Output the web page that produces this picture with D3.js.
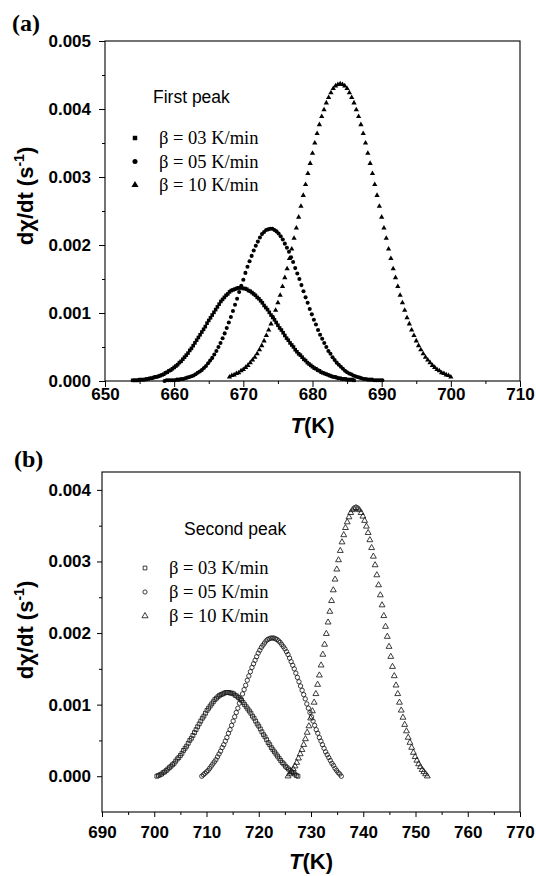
<!DOCTYPE html>
<html>
<head>
<meta charset="utf-8">
<script src="https://cdn.jsdelivr.net/npm/d3@7"></script>
<style>
  body { margin: 0; background: #fff; }
  svg { display: block; }
</style>
</head>
<body>
<svg id="fig" width="536" height="876"></svg>
<script>
// ---- Heating-rate legend labels ----
const rateLabels = ["β = 03 K/min", "β = 05 K/min", "β = 10 K/min"];

// ---- First crystallization peak: sampling grid (K) and dχ/dt (s^-1) ----
const firstStart = [654.0, 658.6, 668.0];
const firstStep = [0.25, 0.3, 1 / 3];

const firstRate03 = [
  0.00001,0.00001,0.00001,0.00001,0.00002,0.00002,0.00002,0.00002,0.00003,0.00003,
  0.00004,0.00004,0.00005,0.00006,0.00006,0.00007,0.00008,0.00009,0.00010,0.00012,
  0.00013,0.00015,0.00016,0.00018,0.00020,0.00022,0.00024,0.00027,0.00029,0.00032,
  0.00035,0.00038,0.00041,0.00045,0.00048,0.00052,0.00056,0.00060,0.00064,0.00068,
  0.00072,0.00076,0.00080,0.00085,0.00089,0.00093,0.00097,0.00101,0.00105,0.00109,
  0.00113,0.00117,0.00120,0.00123,0.00126,0.00128,0.00131,0.00133,0.00134,0.00135,
  0.00136,0.00137,0.00137,
  0.00137,0.00136,0.00136,0.00135,0.00133,0.00132,0.00130,0.00128,0.00126,0.00123,
  0.00121,0.00118,0.00115,0.00111,0.00108,0.00105,0.00101,0.00097,0.00094,0.00090,
  0.00086,0.00082,0.00078,0.00075,0.00071,0.00067,0.00063,0.00060,0.00056,0.00053,
  0.00050,0.00046,0.00043,0.00040,0.00038,0.00035,0.00032,0.00030,0.00027,0.00025,
  0.00023,0.00021,0.00019,0.00018,0.00016,0.00015,0.00013,0.00012,0.00011,0.00010,
  0.00009,0.00008,0.00007,0.00006,0.00006,0.00005,0.00004,0.00004,0.00003,0.00003,
  0.00003,0.00002,0.00002,0.00002,0.00002,0.00001
];

const firstRate05 = [
  0.00000,0.00001,0.00001,0.00001,0.00001,0.00001,0.00002,0.00002,0.00003,0.00003,
  0.00004,0.00005,0.00006,0.00007,0.00008,0.00010,0.00012,0.00014,0.00016,0.00019,
  0.00022,0.00026,0.00030,0.00034,0.00039,0.00044,0.00050,0.00056,0.00063,0.00070,
  0.00078,0.00086,0.00094,0.00103,0.00112,0.00121,0.00131,0.00140,0.00149,0.00159,
  0.00168,0.00176,0.00184,0.00192,0.00199,0.00205,0.00211,0.00216,0.00219,0.00222,
  0.00223,0.00224,
  0.00224,0.00222,0.00220,0.00217,0.00213,0.00208,0.00202,0.00196,0.00190,0.00182,
  0.00175,0.00166,0.00158,0.00150,0.00141,0.00132,0.00123,0.00115,0.00106,0.00098,
  0.00090,0.00083,0.00075,0.00068,0.00062,0.00056,0.00050,0.00044,0.00040,0.00035,
  0.00031,0.00027,0.00024,0.00021,0.00018,0.00015,0.00013,0.00011,0.00010,0.00008,
  0.00007,0.00006,0.00005,0.00004,0.00003,0.00003,0.00002,0.00002,0.00002,0.00001,
  0.00001,0.00001,0.00001,0.00001
];

const firstRate10 = [
  0.00006,0.00008,0.00009,0.00011,0.00012,0.00015,0.00017,0.00020,0.00023,0.00027,
  0.00031,0.00035,0.00040,0.00046,0.00052,0.00059,0.00067,0.00075,0.00084,0.00093,
  0.00104,0.00115,0.00126,0.00139,0.00152,0.00165,0.00180,0.00194,0.00210,0.00225,
  0.00241,0.00257,0.00273,0.00289,0.00305,0.00320,0.00335,0.00350,0.00364,0.00377,
  0.00389,0.00399,0.00409,0.00417,0.00424,0.00430,0.00434,0.00436,
  0.00437,
  0.00436,0.00434,0.00430,0.00424,0.00417,0.00409,0.00399,0.00389,0.00377,0.00364,
  0.00350,0.00335,0.00320,0.00305,0.00289,0.00273,0.00257,0.00241,0.00225,0.00210,
  0.00194,0.00180,0.00165,0.00152,0.00139,0.00126,0.00115,0.00104,0.00093,0.00084,
  0.00075,0.00067,0.00059,0.00052,0.00046,0.00040,0.00035,0.00031,0.00027,0.00023,
  0.00020,0.00017,0.00015,0.00012,0.00011,0.00009,0.00008,0.00006
];

// ---- Second crystallization peak: sampling grid (K) and dχ/dt (s^-1) ----
const secondStart = [700.5, 709.1, 725.6];
const secondStep = [0.3, 0.3, 1 / 3];

const secondRate03 = [
  0.00000,0.00001,0.00002,0.00003,0.00005,0.00006,0.00008,0.00010,0.00012,0.00014,
  0.00016,0.00018,0.00021,0.00024,0.00026,0.00029,0.00032,0.00036,0.00039,0.00042,
  0.00046,0.00050,0.00053,0.00057,0.00061,0.00065,0.00069,0.00073,0.00077,0.00081,
  0.00084,0.00088,0.00092,0.00095,0.00098,0.00101,0.00104,0.00107,0.00109,0.00111,
  0.00113,0.00114,0.00115,0.00116,0.00117,
  0.00117,
  0.00117,0.00116,0.00116,0.00115,0.00113,0.00112,0.00110,0.00108,0.00106,0.00103,
  0.00100,0.00097,0.00094,0.00091,0.00088,0.00084,0.00081,0.00077,0.00073,0.00070,
  0.00066,0.00062,0.00058,0.00055,0.00051,0.00047,0.00044,0.00040,0.00037,0.00034,
  0.00031,0.00028,0.00025,0.00022,0.00019,0.00017,0.00014,0.00012,0.00010,0.00008,
  0.00006,0.00005,0.00003,0.00001,0.00000
];

const secondRate05 = [
  0.00000,0.00002,0.00004,0.00006,0.00008,0.00011,0.00014,0.00017,0.00020,0.00023,
  0.00027,0.00031,0.00035,0.00040,0.00044,0.00049,0.00054,0.00060,0.00065,0.00071,
  0.00077,0.00083,0.00089,0.00095,0.00102,0.00108,0.00115,0.00121,0.00127,0.00134,
  0.00140,0.00146,0.00152,0.00157,0.00162,0.00167,0.00172,0.00176,0.00180,0.00183,
  0.00186,0.00189,0.00191,0.00192,0.00193,
  0.00193,
  0.00193,0.00192,0.00191,0.00189,0.00187,0.00184,0.00181,0.00178,0.00174,0.00170,
  0.00165,0.00160,0.00155,0.00150,0.00144,0.00138,0.00132,0.00126,0.00120,0.00114,
  0.00108,0.00101,0.00095,0.00089,0.00083,0.00077,0.00071,0.00065,0.00060,0.00054,
  0.00049,0.00044,0.00039,0.00034,0.00030,0.00026,0.00022,0.00018,0.00015,0.00011,
  0.00008,0.00005,0.00003,0.00000
];

const secondRate10 = [
  0.00000,0.00003,0.00006,0.00010,0.00014,0.00019,0.00025,0.00031,0.00037,0.00044,
  0.00052,0.00061,0.00070,0.00081,0.00091,0.00103,0.00115,0.00128,0.00141,0.00155,
  0.00170,0.00184,0.00199,0.00215,0.00230,0.00245,0.00260,0.00275,0.00289,0.00302,
  0.00315,0.00327,0.00337,0.00347,0.00355,0.00362,0.00368,0.00372,0.00374,
  0.00375,
  0.00374,0.00372,0.00368,0.00363,0.00357,0.00349,0.00340,0.00330,0.00319,0.00307,
  0.00295,0.00281,0.00267,0.00253,0.00239,0.00224,0.00209,0.00195,0.00181,0.00167,
  0.00153,0.00140,0.00127,0.00115,0.00103,0.00092,0.00082,0.00072,0.00063,0.00054,
  0.00047,0.00040,0.00033,0.00027,0.00022,0.00017,0.00013,0.00009,0.00006,0.00003,
  0.00000
];

// ---- Axis ticks ----
const xTicksA = [650, 660, 670, 680, 690, 700, 710];
const xMinorA = [655, 665, 675, 685, 695, 705];
const yTicksA = [0, 0.001, 0.002, 0.003, 0.004, 0.005];
const yMinorA = [0.0005, 0.0015, 0.0025, 0.0035, 0.0045];

const xTicksB = [690, 700, 710, 720, 730, 740, 750, 760, 770];
const xMinorB = [695, 705, 715, 725, 735, 745, 755, 765];
const yTicksB = [0, 0.001, 0.002, 0.003, 0.004];
const yMinorB = [0.0005, 0.0015, 0.0025, 0.0035];

// ---- Drawing ----
const svg = d3.select("#fig");
const SANS = "'Liberation Sans', Arial, Helvetica, sans-serif";
const SERIF = "'Liberation Serif', 'Times New Roman', serif";
const fmt = d3.format(".3f");
const symbolTypes = [d3.symbolSquare, d3.symbolCircle, d3.symbolTriangle];

function toPoints(start, step, values) {
  return values.map((v, i) => ({ T: start + i * step, v }));
}

function drawPanel(p) {
  const g = svg.append("g");
  const x = d3.scaleLinear().domain(p.xDomain).range([p.left, p.right]);
  const y = d3.scaleLinear().domain(p.yDomain).range([p.bottom, p.top]);

  // minor ticks
  g.append("g")
    .attr("transform", `translate(0,${p.bottom})`)
    .call(d3.axisBottom(x).tickValues(p.xMinor).tickSize(3).tickFormat(""));
  g.append("g")
    .attr("transform", `translate(${p.left},0)`)
    .call(d3.axisLeft(y).tickValues(p.yMinor).tickSize(3).tickFormat(""));

  // major ticks with labels
  g.append("g")
    .attr("transform", `translate(0,${p.bottom})`)
    .call(d3.axisBottom(x).tickValues(p.xTicks).tickSize(p.tick).tickPadding(p.xPad).tickFormat(d3.format("d")));
  g.append("g")
    .attr("transform", `translate(${p.left},0)`)
    .call(d3.axisLeft(y).tickValues(p.yTicks).tickSize(p.tick).tickPadding(p.yPad).tickFormat(fmt));

  g.selectAll(".domain").remove();
  g.selectAll(".tick line").attr("stroke", "#000").attr("stroke-width", 1);
  g.selectAll(".tick text")
    .attr("fill", "#000")
    .style("font-family", SANS)
    .style("font-size", "17px")
    .style("font-weight", "bold");

  // frame
  g.append("rect")
    .attr("x", p.left).attr("y", p.top)
    .attr("width", p.right - p.left).attr("height", p.bottom - p.top)
    .attr("fill", "none").attr("stroke", "#000").attr("stroke-width", 1.1);

  // data markers
  p.series.forEach((s, k) => {
    const sym = d3.symbol().type(symbolTypes[k]).size(p.markerSize[k]);
    g.append("g")
      .selectAll("path")
      .data(toPoints(p.start[k], p.step[k], s))
      .join("path")
      .attr("transform", d => `translate(${x(d.T)},${y(d.v)})`)
      .attr("d", sym)
      .attr("fill", p.hollow ? "none" : "#000")
      .attr("stroke", p.hollow ? "#1a1a1a" : "none")
      .attr("stroke-width", 0.85);
  });

  // panel tag
  svg.append("text")
    .attr("x", p.tagX).attr("y", p.tagY)
    .style("font-family", SERIF).style("font-size", "24px").style("font-weight", "bold")
    .text(p.tag);

  // legend
  svg.append("text")
    .attr("x", p.legendTitleX).attr("y", p.legendTitleY)
    .style("font-family", SANS).style("font-size", "17.5px")
    .text(p.legendTitle);
  rateLabels.forEach((lab, k) => {
    const yy = p.legendY[k];
    svg.append("path")
      .attr("transform", `translate(${p.legendMarkX},${yy - 6})`)
      .attr("d", d3.symbol().type(symbolTypes[k]).size(p.legendMarkSize[k]))
      .attr("fill", p.hollow ? "none" : "#000")
      .attr("stroke", p.hollow ? "#1a1a1a" : "none")
      .attr("stroke-width", 0.85);
    svg.append("text")
      .attr("x", p.legendTextX).attr("y", yy)
      .style("font-family", SERIF).style("font-size", "18.5px")
      .text(lab);
  });

  // y-axis title
  const yt = svg.append("text")
    .attr("transform", `translate(${p.yTitleX},${p.yTitleY}) rotate(-90)`)
    .attr("text-anchor", "middle")
    .style("font-family", SANS).style("font-size", "22px").style("font-weight", "bold");
  yt.append("tspan").text("dχ/dt (s");
  yt.append("tspan").attr("dy", -9).style("font-size", "14px").text("-1");
  yt.append("tspan").attr("dy", 9).text(")");

  // x-axis title
  const xt = svg.append("text")
    .attr("x", (p.left + p.right) / 2).attr("y", p.xTitleY)
    .attr("text-anchor", "middle")
    .style("font-family", SANS).style("font-size", "22px").style("font-weight", "bold");
  xt.append("tspan").style("font-style", "italic").text("T");
  xt.append("tspan").text("(K)");
}

drawPanel({
  left: 105, right: 520, top: 41, bottom: 381,
  xDomain: [650, 710], yDomain: [0, 0.005],
  xTicks: xTicksA, xMinor: xMinorA, yTicks: yTicksA, yMinor: yMinorA,
  tick: 6, xPad: 1, yPad: 8,
  series: [firstRate03, firstRate05, firstRate10],
  start: firstStart, step: firstStep,
  markerSize: [13, 13, 12], hollow: false,
  tag: "(a)", tagX: 12, tagY: 31,
  legendTitle: "First peak", legendTitleX: 153, legendTitleY: 103,
  legendMarkX: 135, legendTextX: 159, legendY: [144, 167.5, 191],
  legendMarkSize: [20, 20, 22],
  yTitleX: 33, yTitleY: 196, xTitleY: 433
});

drawPanel({
  left: 102, right: 520, top: 472, bottom: 812,
  xDomain: [690, 770], yDomain: [-0.0005, 0.00425],
  xTicks: xTicksB, xMinor: xMinorB, yTicks: yTicksB, yMinor: yMinorB,
  tick: 5, xPad: 9, yPad: 6,
  series: [secondRate03, secondRate05, secondRate10],
  start: secondStart, step: secondStep,
  markerSize: [15, 15, 15], hollow: true,
  tag: "(b)", tagX: 14, tagY: 467,
  legendTitle: "Second peak", legendTitleX: 184, legendTitleY: 535,
  legendMarkX: 145, legendTextX: 169, legendY: [574, 598, 622],
  legendMarkSize: [14, 14, 16],
  yTitleX: 33, yTitleY: 630, xTitleY: 869
});
</script>
</body>
</html>
